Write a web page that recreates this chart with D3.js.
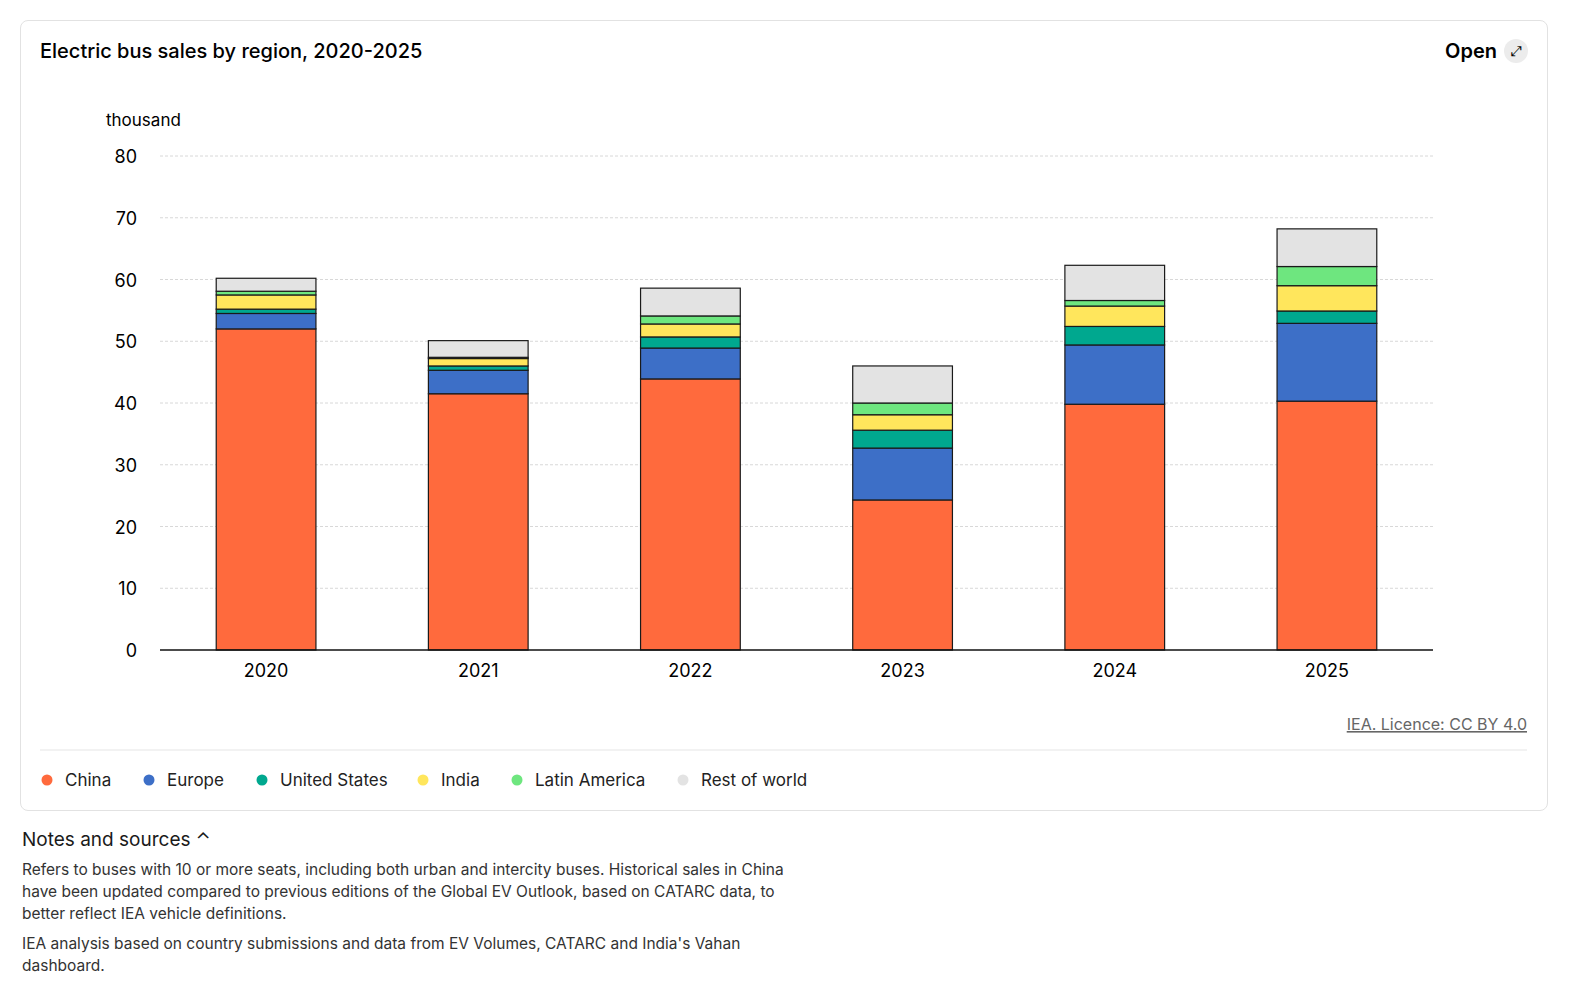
<!DOCTYPE html>
<html><head><meta charset="utf-8">
<script src="https://cdn.jsdelivr.net/npm/d3@7"></script>
<style>
html,body{margin:0;background:#fff;font-family:Inter,"Noto Sans",sans-serif;color:#1a1a1a;overflow:hidden;height:1000px}
.card{position:absolute;left:20px;top:20px;width:1526px;height:789px;border:1px solid #e2e2e2;border-radius:8px}
.notes{position:absolute;left:22px;top:829px;width:790px;font-size:15.5px;color:#333;line-height:22px}
.notes h3{font-size:19px;font-weight:400;margin:0 0 8px 0;color:#1a1a1a}
.notes p{margin:0 0 8px 0}
</style></head><body>
<div class="card"></div>
<svg id="chart" width="1573" height="820" style="position:absolute;left:0;top:0"></svg>
<div class="notes"><h3>Notes and sources &#8963;</h3>
<p>Refers to buses with 10 or more seats, including both urban and intercity buses. Historical sales in China have been updated compared to previous editions of the Global EV Outlook, based on CATARC data, to better reflect IEA vehicle definitions.</p>
<p>IEA analysis based on country submissions and data from EV Volumes, CATARC and India's Vahan dashboard.</p></div>
<script>
// data (thousand)
const years = ["2020","2021","2022","2023","2024","2025"];
const regions = ["China","Europe","United States","India","Latin America","Rest of world"];
const colors = ["#ff6a3d","#3d6fc7","#00a88f","#ffe65c","#6ee67f","#e3e3e3"];
const china = [52.0,41.5,43.9,24.3,39.8,40.3];
const europe = [2.5,3.8,5.0,8.4,9.6,12.6];
const us = [0.7,0.7,1.8,2.9,3.0,2.0];
const india = [2.3,1.2,2.1,2.5,3.3,4.1];
const latam = [0.6,0.2,1.3,1.9,0.9,3.1];
const rest = [2.1,2.7,4.5,6.0,5.7,6.1];
const yTicks = [0,10,20,30,40,50,60,70,80];

const series = [china,europe,us,india,latam,rest];
const rows = years.map((y,i)=>{const r={year:y};regions.forEach((k,j)=>r[k]=series[j][i]);return r;});
const stack = d3.stack().keys(regions)(rows);

const svg = d3.select("#chart");
const x = d3.scaleBand().domain(years).range([160,1433]).paddingInner(0.53).paddingOuter(0.265);
const y = d3.scaleLinear().domain([0,80]).range([650,156]);

svg.append("text").attr("x",40).attr("y",58).attr("font-size",20).attr("font-weight",500).text("Electric bus sales by region, 2020-2025");
svg.append("text").attr("x",1497).attr("y",58).attr("text-anchor","end").attr("font-size",20).attr("font-weight",600).text("Open");
svg.append("circle").attr("cx",1516).attr("cy",51).attr("r",12).attr("fill","#ececec");
svg.append("text").attr("x",1516).attr("y",56).attr("text-anchor","middle").attr("font-size",14).text("⤢");

svg.append("text").attr("x",106).attr("y",126).attr("font-size",17).text("thousand");
svg.selectAll(".grid").data(yTicks.slice(1)).join("line")
  .attr("x1",160).attr("x2",1433).attr("y1",d=>y(d)).attr("y2",d=>y(d))
  .attr("stroke","#d8d8d8").attr("stroke-dasharray","3,2");
svg.selectAll(".yl").data(yTicks).join("text")
  .attr("x",137).attr("y",d=>y(d)+7).attr("text-anchor","end").attr("font-size",18).text(d=>d);

svg.append("g").selectAll("g").data(stack).join("g").attr("fill",(d,i)=>colors[i])
  .selectAll("rect").data(d=>d).join("rect")
  .attr("x",d=>x(d.data.year)).attr("width",x.bandwidth())
  .attr("y",d=>y(d[1])).attr("height",d=>y(d[0])-y(d[1]))
  .attr("stroke","#1a1a1a").attr("stroke-width",1.2);

svg.append("line").attr("x1",160).attr("x2",1433).attr("y1",650).attr("y2",650).attr("stroke","#111").attr("stroke-width",1.5);
svg.selectAll(".xl").data(years).join("text")
  .attr("x",d=>x(d)+x.bandwidth()/2).attr("y",677).attr("text-anchor","middle").attr("font-size",18).text(d=>d);

svg.append("text").attr("x",1527).attr("y",730).attr("text-anchor","end").attr("font-size",16).attr("fill","#666")
  .attr("text-decoration","underline").text("IEA. Licence: CC BY 4.0");
svg.append("line").attr("x1",40).attr("x2",1527).attr("y1",750).attr("y2",750).attr("stroke","#e5e5e5");

const legX = [47,149,262,423,517,683];
const lg = svg.selectAll(".lg").data(regions).join("g").attr("transform",(d,i)=>`translate(${legX[i]},780)`);
lg.append("circle").attr("r",5.5).attr("fill",(d,i)=>colors[i]);
lg.append("text").attr("x",18).attr("y",6).attr("font-size",17).attr("fill","#222").text(d=>d);
</script></body></html>
